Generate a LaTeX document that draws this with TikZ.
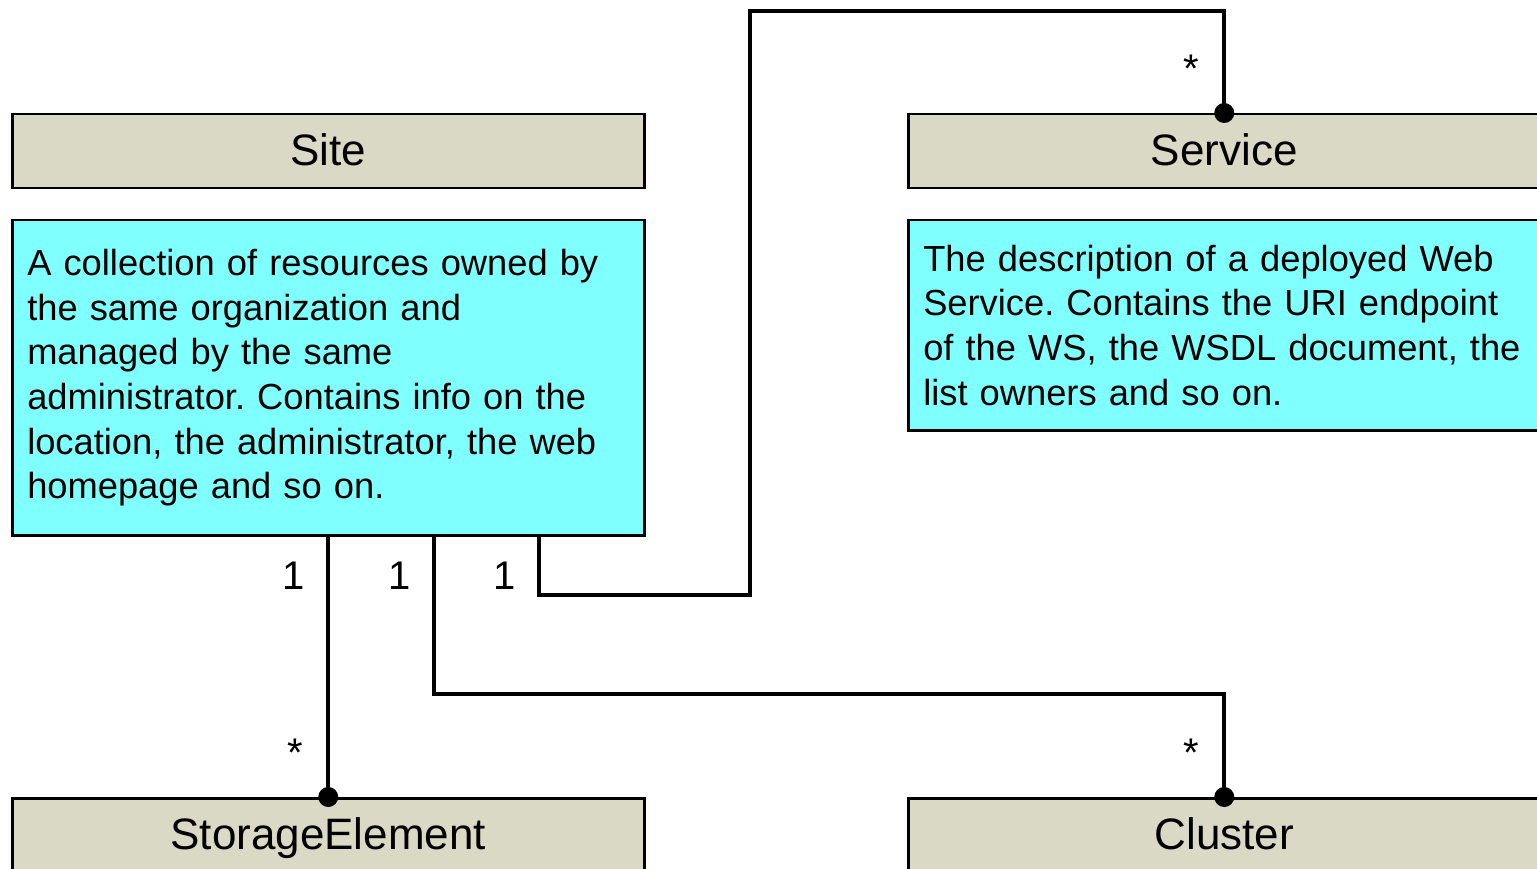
\documentclass[tikz,border=0pt]{standalone}
\usepackage{fontspec}
\setmainfont{Liberation Sans}
\frenchspacing
\definecolor{titlefill}{HTML}{DAD9C5}
\definecolor{descfill}{HTML}{80FFFF}
\begin{document}
\begin{tikzpicture}[x=1pt,y=-1pt,
  titlebox/.style={draw=black,line width=2.5pt,fill=titlefill,anchor=north west,
    minimum width=632pt,minimum height=74pt,inner sep=0pt,
    text height=32pt,text depth=4pt,
    font=\fontsize{44}{50}\selectfont},
  descbox/.style={draw=black,line width=2.5pt,fill=descfill,anchor=north west,
    minimum width=632pt,inner sep=0pt,
    text width=602pt,align=left,
    font=\fontsize{36.3}{44.7}\selectfont},
  conn/.style={line width=4pt,line join=miter},
  mult/.style={anchor=base,inner sep=0pt,font=\fontsize{40}{44}\selectfont},
  dotc/.style={fill=black}]
\useasboundingbox (0,0) rectangle (1537,869);
\clip (0,0) rectangle (1537,869);
\node[titlebox] (site) at (11,113) {Site};
\node[descbox,minimum height=315pt] (sdesc) at (11,219) {A collection of resources owned by\\the same organization and\\managed by the same\\administrator. Contains info on the\\location, the administrator, the web\\homepage and so on.};
\node[titlebox] (service) at (907,113) {Service};
\node[descbox,minimum height=210pt] (vdesc) at (907,219) {The description of a deployed Web\\Service. Contains the URI endpoint\\of the WS, the WSDL document, the\\list owners and so on.\par\vspace{6pt}};
\node[titlebox] (storage) at (11,797) {StorageElement};
\node[titlebox] (cluster) at (907,797) {Cluster};
% connectors
\draw[conn] (sdesc.south) -- (storage.north);
\draw[conn] ([xshift=106pt]sdesc.south) -- ++(0,157) -| (cluster.north);
\draw[conn] ([xshift=211pt]sdesc.south) -- ++(0,58) -- ++(211,0) -- ++(0,-583) -| (service.north);
\fill[dotc] (storage.north) circle (10);
\fill[dotc] (cluster.north) circle (10);
\fill[dotc] (service.north) circle (10);
% multiplicities
\node[mult] (m1) at (294,589) {1};
\node[mult] (m2) at (400,589) {1};
\node[mult] (m3) at (505,589) {1};
\node[mult] (s1) at (295,766) {*};
\node[mult] (s2) at (1191,766) {*};
\node[mult] (s3) at (1191,83) {*};
\end{tikzpicture}
\end{document}
